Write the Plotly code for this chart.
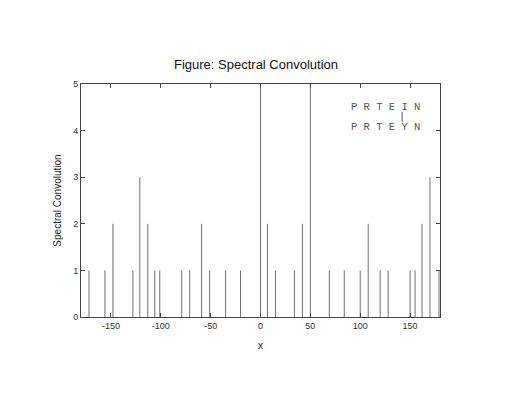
import plotly.graph_objects as go

# impulse positions (mass differences) and their counts
shifts = [-172, -156, -148, -128, -121, -113, -106, -101, -79, -71, -59, -51, -35, -20,
          0, 7, 15, 34, 42, 50, 69, 84, 100, 108, 120, 128, 150, 155, 162, 170, 179]
counts = [1, 1, 2, 1, 3, 2, 1, 1, 1, 1, 2, 1, 1, 1,
          5, 2, 1, 1, 2, 5, 1, 1, 1, 2, 1, 1, 1, 1, 2, 3, 1]
x_ticks = [-150, -100, -50, 0, 50, 100, 150]
x_tick_labels = ["-150", "-100", "-50", "0", "50", "100", "150"]
y_ticks = [0, 1, 2, 3, 4, 5]
seq_top = "P R T E I N"
seq_bottom = "P R T E Y N"

# build impulse line segments from data
xs, ys = [], []
for s, c in zip(shifts, counts):
    xs += [s, s, None]
    ys += [0, c, None]

fig = go.Figure()
fig.add_trace(go.Scatter(x=xs, y=ys, mode="lines",
                         line=dict(color="#707070", width=1),
                         hoverinfo="skip", showlegend=False))

fig.add_annotation(x=89, y=4.5, xref="x", yref="y", text=seq_top, showarrow=False,
                   xanchor="left", yanchor="middle",
                   font=dict(family="Liberation Mono", size=10.5, color="#555555"))
fig.add_annotation(x=89, y=4.08, xref="x", yref="y", text=seq_bottom, showarrow=False,
                   xanchor="left", yanchor="middle",
                   font=dict(family="Liberation Mono", size=10.5, color="#555555"))
fig.add_shape(type="line", x0=142, x1=142, y0=4.18, y1=4.4, xref="x", yref="y",
              line=dict(color="#555555", width=1))

axis_common = dict(showline=True, linecolor="#444444", linewidth=1, mirror="ticks",
                   ticks="inside", ticklen=4, tickcolor="#444444", showgrid=False,
                   zeroline=False, tickfont=dict(family="Liberation Sans", size=9, color="#333333"))

fig.update_layout(
    width=517, height=400,
    margin=dict(l=73, r=85, t=76, b=91),
    paper_bgcolor="white", plot_bgcolor="white",
    title=dict(text="Figure: Spectral Convolution", x=(256 - 8) / 517, xanchor="center",
               y=1 - 56 / 400, yanchor="middle",
               font=dict(family="Liberation Sans", size=13, color="#111111")),
    xaxis=dict(range=[-180, 180], tickvals=x_ticks, ticktext=x_tick_labels,
               title=dict(text="x", standoff=12,
                          font=dict(family="Liberation Sans", size=10, color="#222222")),
               **axis_common),
    yaxis=dict(range=[0, 5], tickvals=y_ticks,
               title=dict(text="Spectral Convolution", standoff=9,
                          font=dict(family="Liberation Sans", size=10, color="#222222")),
               **axis_common),
)

fig.write_html("out.html")
